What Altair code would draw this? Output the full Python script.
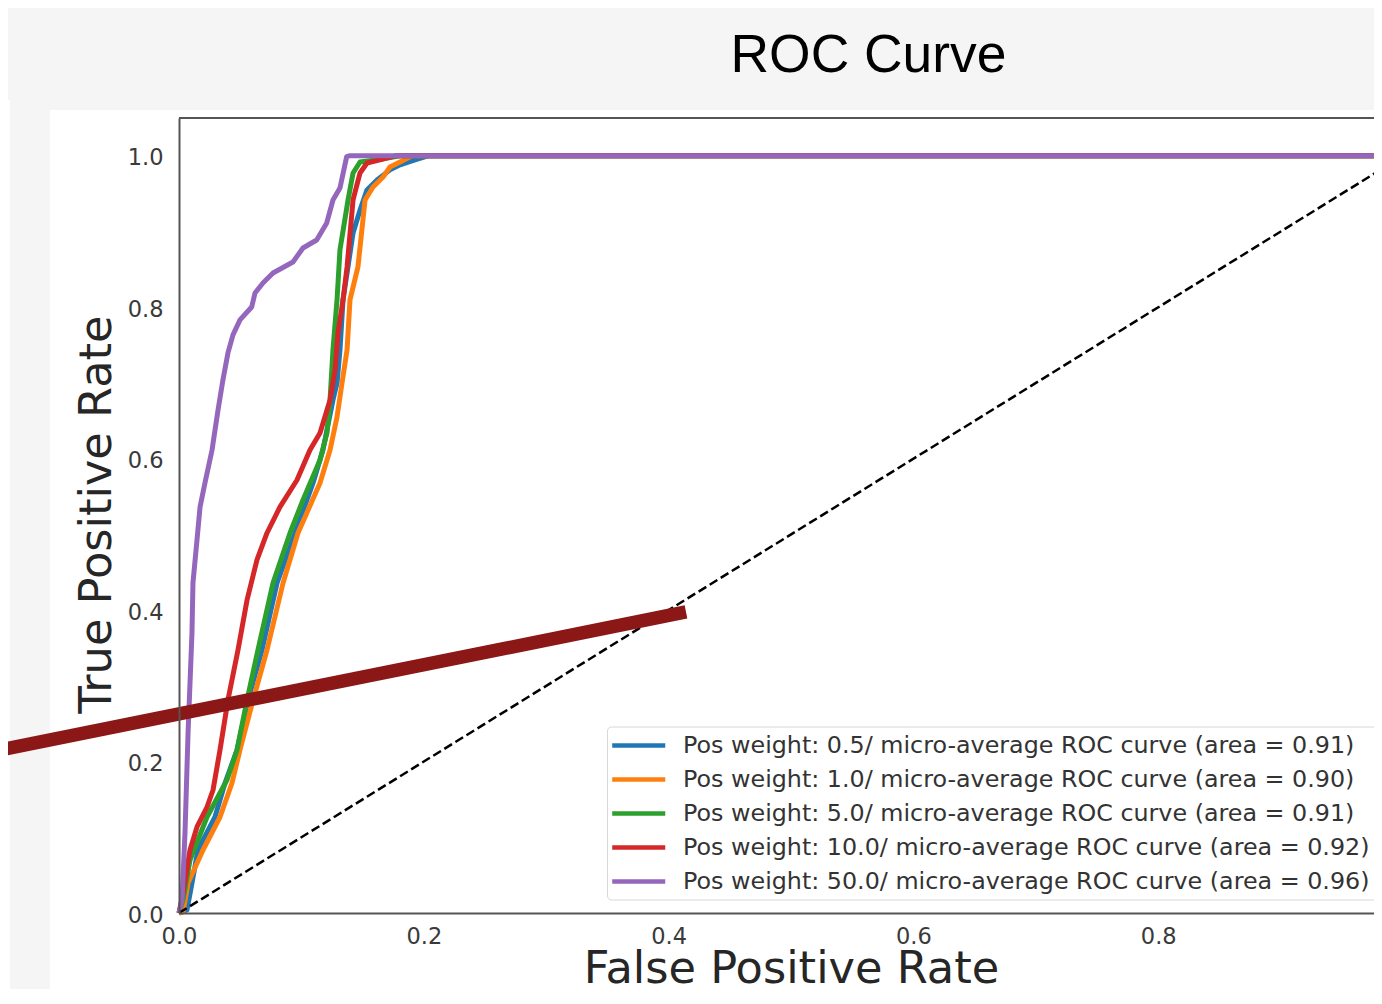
import altair as alt
import pandas as pd

# ---------------- data ----------------
series_labels = [
    "Pos weight: 0.5/ micro-average ROC curve (area = 0.91)",
    "Pos weight: 1.0/ micro-average ROC curve (area = 0.90)",
    "Pos weight: 5.0/ micro-average ROC curve (area = 0.91)",
    "Pos weight: 10.0/ micro-average ROC curve (area = 0.92)",
    "Pos weight: 50.0/ micro-average ROC curve (area = 0.96)",
]
series_colors = ["#1f77b4", "#ff7f0e", "#2ca02c", "#d62728", "#9467bd"]

fpr_w05 = [0.0, 0.0065, 0.0106, 0.0155, 0.0294, 0.0376, 0.0474, 0.0564, 0.0678, 0.0801,
           0.0948, 0.1095, 0.1176, 0.1258, 0.1291, 0.1315, 0.1340, 0.1422, 0.1479, 0.1536,
           0.1618, 0.1724, 0.1806, 0.1928, 0.2034, 1.0]
tpr_w05 = [0.0, 0.004, 0.0396, 0.0832, 0.1268, 0.1717, 0.2153, 0.2813, 0.3474, 0.4359,
           0.5019, 0.5680, 0.6115, 0.6776, 0.7000, 0.7436, 0.8097, 0.8982, 0.9285, 0.9550,
           0.9682, 0.9815, 0.9881, 0.9947, 1.0, 1.0]

fpr_w1 = [0.0, 0.0033, 0.0074, 0.0196, 0.0335, 0.0433, 0.0498, 0.0605, 0.0719, 0.0850,
          0.0972, 0.1152, 0.1234, 0.1291, 0.1332, 0.1373, 0.1397, 0.1462, 0.1520, 0.1585,
          0.1667, 0.1724, 0.1806, 0.1904, 1.0]
tpr_w1 = [0.0, 0.0013, 0.0396, 0.0832, 0.1268, 0.1717, 0.2153, 0.2813, 0.3474, 0.4359,
          0.5019, 0.5680, 0.6115, 0.6551, 0.7000, 0.7436, 0.8097, 0.8533, 0.9417, 0.9589,
          0.9721, 0.9853, 0.9919, 1.0, 1.0]

fpr_w5 = [0.0, 0.0033, 0.0090, 0.0229, 0.0392, 0.0474, 0.0556, 0.0645, 0.0768, 0.0907,
          0.1013, 0.1152, 0.1209, 0.1234, 0.1258, 0.1291, 0.1315, 0.1381, 0.1422, 0.1479,
          0.1667, 0.1806, 1.0]
tpr_w5 = [0.0, 0.0172, 0.0700, 0.1268, 0.1757, 0.2153, 0.2813, 0.3474, 0.4359, 0.5019,
          0.5455, 0.5983, 0.6340, 0.6776, 0.7436, 0.8097, 0.8757, 0.9417, 0.9774, 0.9919,
          0.9960, 1.0, 1.0]

fpr_w10 = [0.0, 0.0033, 0.0090, 0.0147, 0.0229, 0.0278, 0.0335, 0.0400, 0.0482, 0.0556,
           0.0637, 0.0719, 0.0825, 0.0964, 0.1070, 0.1152, 0.1234, 0.1275, 0.1299, 0.1340,
           0.1373, 0.1422, 0.1479, 0.1536, 0.1642, 0.1765, 1.0]
tpr_w10 = [0.0, 0.0264, 0.0832, 0.1136, 0.1400, 0.1625, 0.2153, 0.2813, 0.3474, 0.4134,
           0.4663, 0.5019, 0.5363, 0.5719, 0.6115, 0.6340, 0.6776, 0.7172, 0.7661, 0.8097,
           0.8533, 0.9417, 0.9774, 0.9906, 0.9947, 1.0, 1.0]

fpr_w50 = [0.0, 0.0025, 0.0049, 0.0074, 0.0106, 0.0114, 0.0147, 0.0172, 0.0212, 0.0270,
           0.0319, 0.0359, 0.0400, 0.0441, 0.0498, 0.0594, 0.0621, 0.0686, 0.0768, 0.0931,
           0.1013, 0.1125, 0.1207, 0.1258, 0.1315, 0.1370, 0.1390, 1.0]
tpr_w50 = [0.0, 0.0172, 0.1057, 0.2378, 0.3698, 0.4359, 0.4927, 0.5363, 0.5680, 0.6116,
           0.6644, 0.7040, 0.7397, 0.7635, 0.7833, 0.8004, 0.8189, 0.8321, 0.8453, 0.8598,
           0.8783, 0.8889, 0.9114, 0.9417, 0.9576, 0.9990, 1.0, 1.0]

all_fpr = [fpr_w05, fpr_w1, fpr_w5, fpr_w10, fpr_w50]
all_tpr = [tpr_w05, tpr_w1, tpr_w5, tpr_w10, tpr_w50]

chance_fpr = [0.0, 1.0]
chance_tpr = [0.0, 1.0]

# hand-drawn dark-red stroke over the screenshot (data coordinates)
stroke_fpr = [-0.1462, 0.4142]
stroke_tpr = [0.2153, 0.3976]

x_ticks = [0.0, 0.2, 0.4, 0.6, 0.8]
y_ticks = [0.0, 0.2, 0.4, 0.6, 0.8, 1.0]
X_VISIBLE_MAX = 0.9763   # the picture is cropped just before fpr = 1.0
Y_MAX = 1.05

# ---------------- tables ----------------
rows = []
for s, (fx, ty) in enumerate(zip(all_fpr, all_tpr)):
    for i, (a, b) in enumerate(zip(fx, ty)):
        rows.append({"series": series_labels[s], "sidx": s, "i": i, "fpr": a, "tpr": b})
curves = pd.DataFrame(rows)
chance = pd.DataFrame({"fpr": chance_fpr, "tpr": chance_tpr})
stroke = pd.DataFrame({"fpr": stroke_fpr, "tpr": stroke_tpr})
one = pd.DataFrame({"t": ["ROC Curve"]})

W, H = 1195, 795

xs = alt.Scale(domain=[0, X_VISIBLE_MAX], nice=False, zero=False)
ys = alt.Scale(domain=[0, Y_MAX], nice=False, zero=False)

x_axis = alt.Axis(values=x_ticks, format=".1f", title="False Positive Rate",
                  titleX=612, titleY=69, titleBaseline="alphabetic", labelPadding=12,
                  labelFlush=False, labelOverlap=False, zindex=1)
y_axis = alt.Axis(values=y_ticks, format=".1f", title="True Positive Rate",
                  titleX=-69, titleY=396, titleAngle=270, titleAlign="center",
                  titleBaseline="alphabetic", labelPadding=16, labelOffset=2,
                  labelFlush=False, labelOverlap=False, zindex=1)

white_panel = alt.Chart(one).mark_rect(color="white").encode(
    x=alt.value(-129), x2=alt.value(W + 10), y=alt.value(-8), y2=alt.value(890))
white_strip = alt.Chart(one).mark_rect(color="white").encode(
    x=alt.value(-171), x2=alt.value(-169), y=alt.value(-18), y2=alt.value(890))

lines = alt.Chart(curves).mark_line(strokeWidth=5, strokeJoin="round").encode(
    x=alt.X("fpr:Q", scale=xs, axis=x_axis),
    y=alt.Y("tpr:Q", scale=ys, axis=y_axis),
    color=alt.Color("series:N",
                    scale=alt.Scale(domain=series_labels, range=series_colors),
                    legend=alt.Legend(title=None, orient="none", legendX=428, legendY=608.5,
                                      symbolType="M-1.3,0H3.7", symbolSize=450,
                                      symbolStrokeWidth=4.5, labelFontSize=23.8,
                                      labelFont="DejaVu Sans", labelColor="#333333",
                                      labelOffset=44, rowPadding=9, padding=6,
                                      fillColor="white", strokeColor="#d8d8d8",
                                      cornerRadius=4, labelLimit=1000)),
    order="i:Q",
)

diag = alt.Chart(chance).mark_line(color="black", strokeWidth=2.5, strokeDash=[9, 4]).encode(
    x="fpr:Q", y="tpr:Q")

top_frame = alt.Chart(one).mark_rule(color="#555555", strokeWidth=2).encode(
    x=alt.value(0), x2=alt.value(W + 5), y=alt.value(0))

red_stroke = alt.Chart(stroke).mark_line(color="#8b1717", strokeWidth=13.5, strokeCap="butt",
                                         clip=False).encode(x="fpr:Q", y="tpr:Q")

title = alt.Chart(one).mark_text(font="Liberation Sans", fontSize=53.4, color="black",
                                 align="center", baseline="alphabetic").encode(
    x=alt.value(689.5), y=alt.value(-46), text="t:N")

chart = alt.layer(white_panel, white_strip, lines, diag, top_frame, red_stroke, title).properties(
    width=W, height=H,
    background="#f5f5f5",
    autosize=alt.AutoSizeParams(type="none"),
    padding={"left": 171, "top": 110, "right": 0, "bottom": 76},
).configure_view(stroke=None).configure_axis(
    grid=False, ticks=False, tickSize=0,
    domain=True, domainColor="#555555", domainWidth=2,
    labelFont="DejaVu Sans", labelFontSize=22.5, labelColor="#3a3a3a",
    titleFont="DejaVu Sans", titleFontSize=44.7, titleColor="#262626",
    titleFontWeight="normal",
)

chart.save("out.html", embed_options={"renderer": "svg", "actions": False})
